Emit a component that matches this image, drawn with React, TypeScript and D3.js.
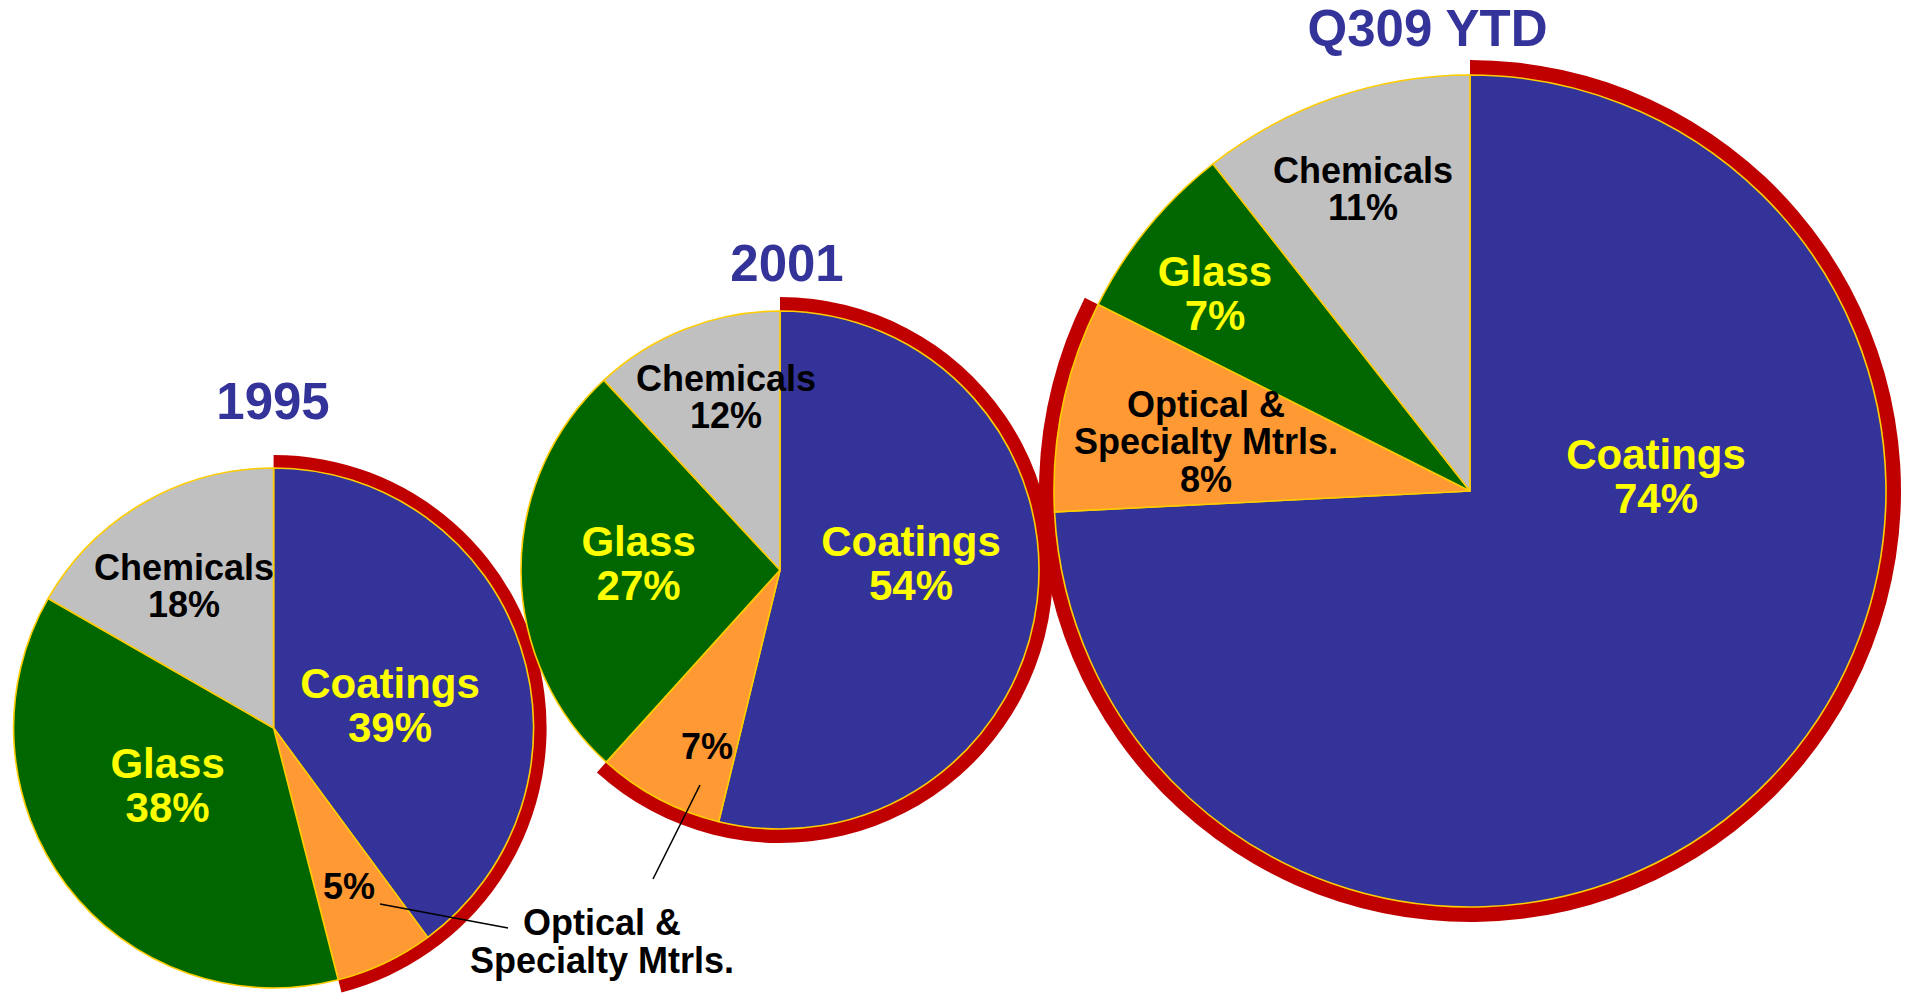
import React from "react";
import * as d3 from "d3";

// ---- data ----
const PERIODS = ["1995", "2001", "Q309 YTD"];
const CATEGORIES = ["Coatings", "Optical & Specialty Mtrls.", "Glass", "Chemicals"];
const SHARE_1995 = [39.9, 6.1, 37.3, 16.7];
const SHARE_2001 = [53.8, 7.9, 26.4, 11.9];
const SHARE_Q309 = [74.2, 8.2, 7.0, 10.6];
const PCT_1995 = ["39%", "5%", "38%", "18%"];
const PCT_2001 = ["54%", "7%", "27%", "12%"];
const PCT_Q309 = ["74%", "8%", "7%", "11%"];
const HIGHLIGHTED = ["Coatings", "Optical & Specialty Mtrls."];

// ---- styles / layout ----
const W = 1907;
const H = 998;
const FONT = "'Liberation Sans', Arial, Helvetica, sans-serif";
const SLICE_FILL = d3.scaleOrdinal<string, string>().domain(CATEGORIES).range(["#333399", "#FF9933", "#006600", "#C0C0C0"]);
const TEXT_FILL = d3.scaleOrdinal<string, string>().domain(CATEGORIES).range(["#FFFF00", "#000000", "#FFFF00", "#000000"]);
const TEXT_SIZE = d3.scaleOrdinal<string, number>().domain(CATEGORIES).range([42, 36, 42, 36]);
const OUTLINE = "#FFCC00";
const RING = "#C00000";
const TITLE = "#333399";

type Lbl = { dx: number; dy: number; lines: "both" | "pct" | "none" };
const PIES = [
  {
    period: PERIODS[0], values: SHARE_1995, pcts: PCT_1995,
    cx: 273.6, cy: 728, r: 260, ring: 13, title: { x: 273, y: 419 },
    labels: [
      { dx: 116.4, dy: -30, lines: "both" },
      { dx: 75.4, dy: 171, lines: "pct" },
      { dx: -106, dy: 50, lines: "both" },
      { dx: -89.6, dy: -148, lines: "both" },
    ] as Lbl[],
  },
  {
    period: PERIODS[1], values: SHARE_2001, pcts: PCT_2001,
    cx: 780, cy: 570, r: 259, ring: 14, title: { x: 787, y: 281 },
    labels: [
      { dx: 131, dy: -14, lines: "both" },
      { dx: -73, dy: 189, lines: "pct" },
      { dx: -141.4, dy: -14, lines: "both" },
      { dx: -54, dy: -179.5, lines: "both" },
    ] as Lbl[],
  },
  {
    period: PERIODS[2], values: SHARE_Q309, pcts: PCT_Q309,
    cx: 1470, cy: 491, r: 416, ring: 15, title: { x: 1427.5, y: 46 },
    labels: [
      { dx: 186, dy: -22, lines: "both" },
      { dx: -264, dy: -74, lines: "both" },
      { dx: -255, dy: -205, lines: "both" },
      { dx: -107, dy: -308, lines: "both" },
    ] as Lbl[],
  },
];

const CALLOUT = { x: 602, y: 935, lines: ["Optical &", "Specialty Mtrls."] };
const LEADERS = [
  { pie: 0, from: [380, 904], to: [508, 928] },
  { pie: 1, from: [700, 785], to: [653, 879] },
];

function splitName(name: string): string[] {
  if (name.startsWith("Optical")) return ["Optical &", "Specialty Mtrls."];
  return [name];
}

function Pie({ spec }: { spec: (typeof PIES)[number] }) {
  const pie = d3.pie<number>().sort(null).startAngle(0).endAngle(2 * Math.PI);
  const arcs = pie(spec.values);
  const arc = d3.arc<d3.PieArcDatum<number>>().innerRadius(0).outerRadius(spec.r);
  const hiEnd = d3.max(arcs.filter((a, i) => HIGHLIGHTED.includes(CATEGORIES[i])), (a) => a.endAngle) as number;
  const ring = d3.arc()({ innerRadius: spec.r, outerRadius: spec.r + spec.ring, startAngle: 0, endAngle: hiEnd }) as string;
  return (
    <g>
      <text x={spec.title.x} y={spec.title.y} textAnchor="middle" fontFamily={FONT} fontWeight="bold" fontSize={51} fill={TITLE}>
        {spec.period}
      </text>
      <g transform={`translate(${spec.cx},${spec.cy})`}>
        <path d={ring} fill={RING} />
        {arcs.map((a, i) => (
          <path key={i} d={arc(a) as string} fill={SLICE_FILL(CATEGORIES[i])} stroke={OUTLINE} strokeWidth={1.6} strokeLinejoin="round" />
        ))}
        {arcs.map((a, i) => {
          const cat = CATEGORIES[i];
          const l = spec.labels[i];
          const lines = l.lines === "both" ? [...splitName(cat), spec.pcts[i]] : [spec.pcts[i]];
          const fs = TEXT_SIZE(cat);
          const lh = fs * 1.04;
          return (
            <text key={"t" + i} textAnchor="middle" fontFamily={FONT} fontWeight="bold" fontSize={fs} fill={TEXT_FILL(cat)}>
              {lines.map((s, k) => (
                <tspan key={k} x={l.dx} y={l.dy + k * lh}>{s}</tspan>
              ))}
            </text>
          );
        })}
      </g>
    </g>
  );
}

export default function App() {
  return (
    <svg width={W} height={H} viewBox={`0 0 ${W} ${H}`} style={{ position: "absolute", left: 0, top: 0, background: "#fff" }}>
      {PIES.map((p) => (
        <Pie key={p.period} spec={p} />
      ))}
      {LEADERS.map((ld, i) => (
        <line key={i} x1={ld.from[0]} y1={ld.from[1]} x2={ld.to[0]} y2={ld.to[1]} stroke="#000" strokeWidth={1.6} />
      ))}
      <text textAnchor="middle" fontFamily={FONT} fontWeight="bold" fontSize={36} fill="#000">
        {CALLOUT.lines.map((s, k) => (
          <tspan key={k} x={CALLOUT.x} y={CALLOUT.y + k * 37.5}>{s}</tspan>
        ))}
      </text>
    </svg>
  );
}
